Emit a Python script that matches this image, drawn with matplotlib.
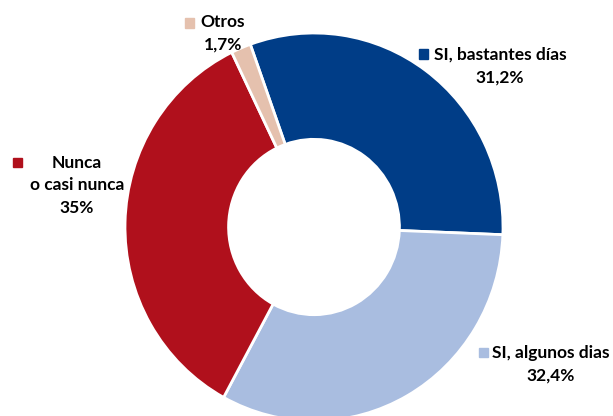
import matplotlib
matplotlib.use("Agg")
import matplotlib.pyplot as plt
from matplotlib.patches import Rectangle

categories = ["SI, bastantes días", "SI, algunos dias", "Nunca\no casi nunca", "Otros"]
values = [31.2, 32.4, 35, 1.7]
value_labels = ["31,2%", "32,4%", "35%", "1,7%"]
colors = ["#003D87", "#A9BDE0", "#B0101C", "#E5C1AE"]

W, H = 613, 416
fig = plt.figure(figsize=(W / 100, H / 100), dpi=100)

# donut is a bit taller than wide in the original
cx, cy, rx, ry = 314, 227, 189, 194
ax = fig.add_axes([(cx - rx) / W, 1 - (cy + ry) / H, 2 * rx / W, 2 * ry / H])
ax.pie(values, colors=colors, startangle=109.7, counterclock=False,
       wedgeprops=dict(width=0.548, edgecolor="white", linewidth=2))
ax.set_aspect("auto")
ax.set_xlim(-1, 1)
ax.set_ylim(-1, 1)
ax.axis("off")

font = dict(family="Lato", weight="bold", fontsize=12.5, color="black",
            ha="center", va="center")

def px(x, y):
    return x / W, 1 - y / H

# (square x, square y, text center x, first line y)
label_pos = [
    (423, 54, 500, 55),
    (483, 352, 551, 353),
    (17, 162, 77, 163),
    (189, 23, 223, 22),
]
for cat, vl, col, (sx, sy, tx, ty) in zip(categories, value_labels, colors, label_pos):
    lines = cat.split("\n") + [vl]
    for i, line in enumerate(lines):
        fig.text(*px(tx, ty + 22.5 * i), line, **font)
    s = 9
    fig.patches.append(Rectangle(px(sx - s / 2, sy + s / 2), s / W, s / H,
                                 transform=fig.transFigure, color=col))

fig.savefig("out.png", dpi=100)
